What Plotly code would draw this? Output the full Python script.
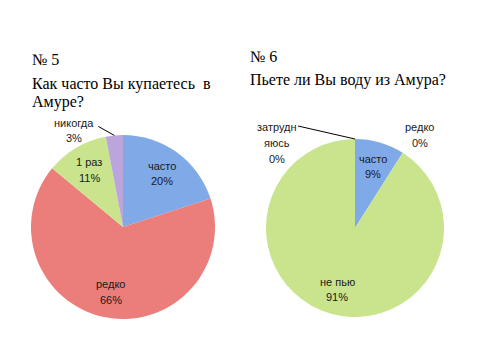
import math
import plotly.graph_objects as go

# ---- data ----
cat1 = ["часто", "редко", "1 раз", "никогда"]
val1 = [20, 66, 11, 3]
cat2 = ["часто", "редко", "не пью", "затрудняюсь"]
disp2 = ["часто", "редко", "не пью", "затрудн<br>яюсь"]
val2 = [9, 0, 91, 0]
title1 = ["№ 5", "Как часто Вы купаетесь  в", "Амуре?"]
title2 = ["№ 6", "Пьете ли Вы воду из Амура?"]

# ---- style / layout ----
W, H = 480, 360
OFF = 8  # page body margin
LINE = 15.5  # label line spacing (px)
colors = ["#80A9E8", "#EB7E7B", "#C9E48C", "#BBA5DA"]
C1, R1 = (123, 227), 92
C2, R2 = (355, 228), 89
label_font = dict(family="Liberation Sans, Arial", size=11, color="#1a1a1a")
title_font = dict(family="Liberation Serif, Times New Roman", size=16, color="#000000")


def px(x, y):
    return (x - OFF) / W, 1 - (y - OFF) / H


def domain(c, r):
    x0, y1 = px(c[0] - r, c[1] - r)
    x1, y0 = px(c[0] + r, c[1] + r)
    return dict(x=[x0, x1], y=[y0, y1])


fig = go.Figure()
for vals, labs, c, r in [(val1, cat1, C1, R1), (val2, cat2, C2, R2)]:
    fig.add_trace(go.Pie(
        values=vals, labels=labs, sort=False, direction="clockwise", rotation=0,
        marker=dict(colors=colors, line=dict(width=0)),
        textinfo="none", hoverinfo="label+percent", showlegend=False,
        domain=domain(c, r),
    ))

annotations = []
shapes = []


def slice_angles(vals):
    tot = sum(vals)
    out, acc = [], 0
    for v in vals:
        a0 = acc / tot * 360
        acc += v
        a1 = acc / tot * 360
        out.append((a0, a1))
    return out


def point(c, r, ang, frac):
    a = math.radians(ang)
    return c[0] + r * frac * math.sin(a), c[1] - r * frac * math.cos(a)


def add_text_block(cx, cy, lines):
    n = len(lines)
    for k, ln in enumerate(lines):
        tx, ty = px(cx, cy + (k - (n - 1) / 2) * LINE)
        annotations.append(dict(x=tx, y=ty, xref="paper", yref="paper", text=ln,
                                showarrow=False, font=label_font,
                                xanchor="center", yanchor="middle"))


# outside label offsets (pixels) : (text offset, leader-line start offset or None)
outside1 = {3: ((-40, -5), (-16, -9), "mid")}
outside2 = {1: ((17, -18), None, "start"), 3: ((-78, 4), (-57, -13), "start")}


def add_labels(vals, names, c, r, outside):
    tot = sum(vals)
    for i, ((a0, a1), v, n) in enumerate(zip(slice_angles(vals), vals, names)):
        pct = f"{round(v / tot * 100)}%"
        lines = n.split("<br>") + [pct]
        if i in outside:
            toff, loff, where = outside[i]
            ang = (a0 + a1) / 2 if where == "mid" else a0
            ex, ey = point(c, r, ang, 1.0)
            add_text_block(ex + toff[0], ey + toff[1], lines)
            if loff:
                sx, sy = px(ex + loff[0], ey + loff[1])
                x1, y1 = px(ex, ey)
                shapes.append(dict(type="line", xref="paper", yref="paper",
                                   x0=sx, y0=sy, x1=x1, y1=y1,
                                   line=dict(color="#000000", width=1)))
        else:
            lx, ly = point(c, r, (a0 + a1) / 2, 0.72)
            add_text_block(lx, ly, lines)


add_labels(val1, cat1, C1, R1, outside1)
add_labels(val2, disp2, C2, R2, outside2)

for txt, (x, y) in zip(title1, [(30, 60), (30, 84), (30, 102)]):
    tx, ty = px(x, y)
    annotations.append(dict(x=tx, y=ty, xref="paper", yref="paper", text=txt, showarrow=False,
                            xanchor="left", yanchor="middle", font=title_font))
for txt, (x, y) in zip(title2, [(248, 57), (248, 80)]):
    tx, ty = px(x, y)
    annotations.append(dict(x=tx, y=ty, xref="paper", yref="paper", text=txt, showarrow=False,
                            xanchor="left", yanchor="middle", font=title_font))

fig.update_layout(
    width=W, height=H, margin=dict(l=0, r=0, t=0, b=0),
    paper_bgcolor="white", plot_bgcolor="white",
    annotations=annotations, shapes=shapes,
)
fig.write_html("out.html")
